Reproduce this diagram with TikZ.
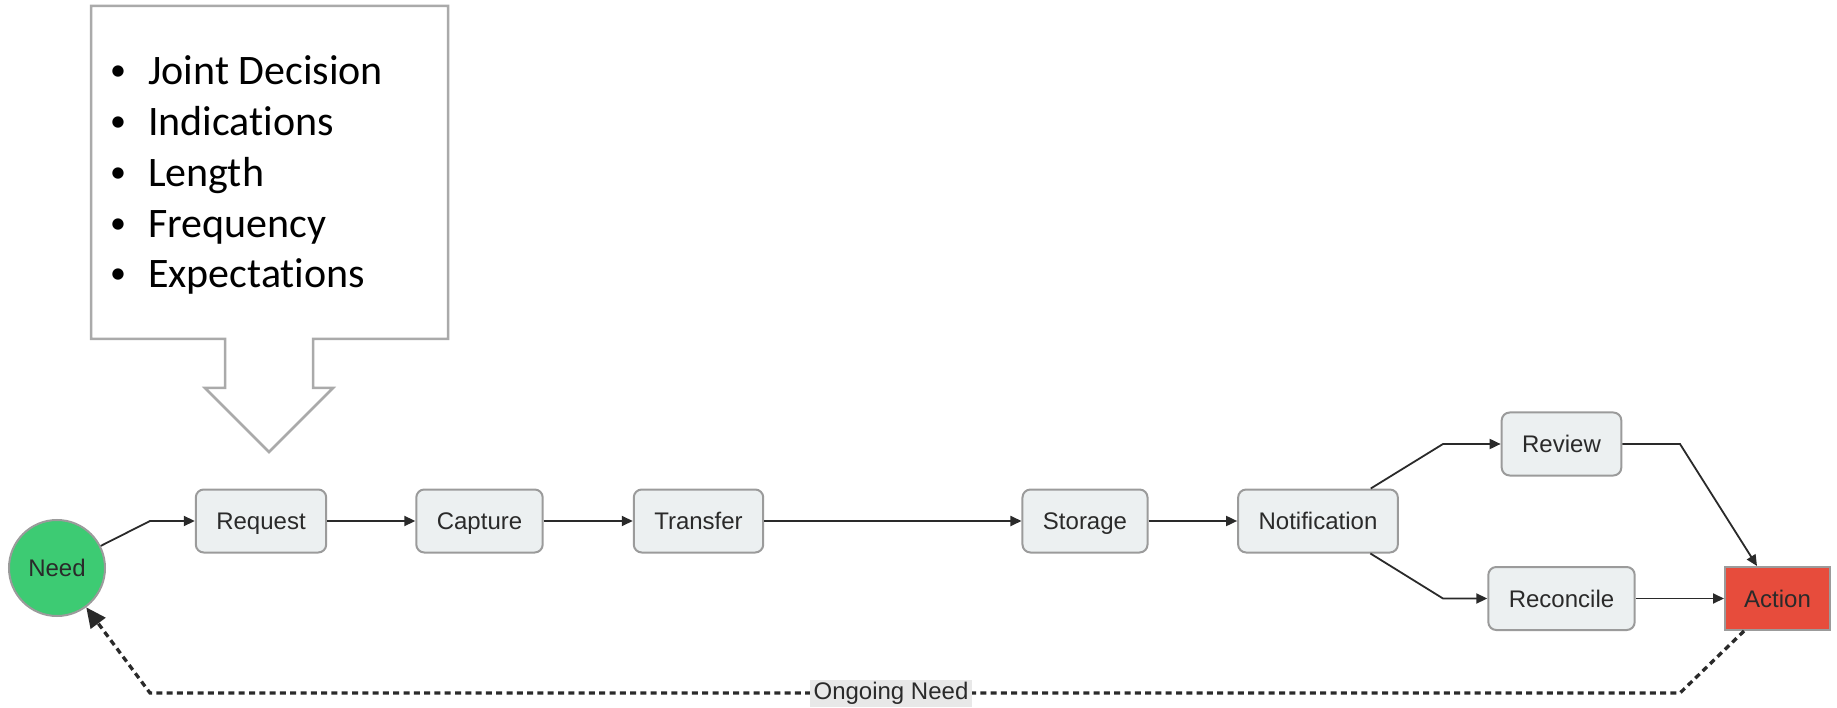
\documentclass[tikz,border=0pt]{standalone}
\usepackage{fontspec}
\setmainfont{Liberation Sans}
\newfontfamily\calib[Ligatures=NoCommon]{Carlito}
\usetikzlibrary{arrows.meta}
\definecolor{boxfill}{HTML}{ECF0F1}
\definecolor{boxline}{HTML}{9B9B9B}
\definecolor{txt}{HTML}{2A2A2A}
\definecolor{needgreen}{HTML}{3DCB73}
\definecolor{actred}{HTML}{E74C3C}
\definecolor{calline}{HTML}{AAAAAA}
\definecolor{lblbg}{HTML}{E8E8E8}
\begin{document}
\begin{tikzpicture}[x=1pt,y=-1pt,
  boxfont/.style={font=\fontsize{24}{28}\selectfont, text height=18.5pt, text depth=1.5pt},
  stepbox/.style={draw=boxline, line width=2pt, fill=boxfill, rounded corners=8pt,
    minimum height=63pt, inner xsep=20.5pt, text=txt, boxfont},
  neednode/.style={circle, draw=boxline, line width=2pt, fill=needgreen,
    minimum size=96pt, inner sep=0pt, text=txt, boxfont},
  actnode/.style={draw=boxline, line width=2pt, fill=actred,
    minimum height=63pt, minimum width=105pt, text=txt, boxfont},
  conn/.style={draw=txt, line width=1.8pt, -{Triangle[length=11pt,width=10pt]}},
  loopconn/.style={draw=txt, line width=3.3pt, dash pattern=on 6pt off 4.3pt,
    -{Triangle[length=20pt,width=18pt]}},
  calloutline/.style={draw=calline, line width=2.5pt, fill=white},
  bullettext/.style={font=\calib\fontsize{42}{50}\selectfont, inner sep=0pt, text=black},
  bulletdot/.style={font=\calib\fontsize{32}{40}\selectfont, inner sep=0pt, text=black},
  lbl/.style={fill=lblbg, text=txt, inner xsep=4pt, inner ysep=3pt, font=\fontsize{24}{28}\selectfont, text height=17pt, text depth=4pt}
]
\useasboundingbox (0,0) rectangle (1837,708);

% callout box with down arrow
\draw[calloutline] (91,6) -- (448,6) -- (448,339) -- (313,339) -- (313,388) -- (333,388)
  -- (269,452) -- (205,388) -- (225,388) -- (225,339) -- (91,339) -- cycle;
\foreach \t [count=\i from 0] in {Joint Decision,Indications,Length,Frequency,Expectations}{
  \node[bulletdot, anchor=base] (bu\i) at (118,81+50.75*\i) {•};
  \node[bullettext, anchor=base west] (bt\i) at (148,85+50.75*\i) {\t};
}

% nodes
\node[neednode] (need) at (57,568) {Need};
\node[stepbox] (request) at (261,521) {Request};
\node[stepbox] (capture) at (479.5,521) {Capture};
\node[stepbox] (transfer) at (698.5,521) {Transfer};
\node[stepbox] (storage) at (1085,521) {Storage};
\node[stepbox] (notif) at (1318,521) {Notification};
\node[stepbox] (review) at (1561.5,444) {Review};
\node[stepbox] (reconcile) at (1561.5,598.5) {Reconcile};
\node[actnode] (action) at (1777.5,598.5) {Action};

% connectors
\coordinate (c1) at (150,521);
\coordinate (c2) at (1443,444);
\coordinate (c3) at (1443,598.5);
\coordinate (c4) at (1680,444);
\coordinate (c5) at (1680,693);
\coordinate (c6) at (150,693);
\draw[conn] (need) -- (c1) -- (request.west);
\draw[conn] (request) -- (capture);
\draw[conn] (capture) -- (transfer);
\draw[conn] (transfer) -- (storage);
\draw[conn] (storage) -- (notif);
\draw[conn] (notif) -- (c2) -- (review.west);
\draw[conn] (notif) -- (c3) -- (reconcile.west);
\draw[conn] (review.east) -- (c4) -- (action);
\draw[conn] (reconcile) -- (action);
\draw[loopconn] (action) -- (c5) -- (c6) -- (need);
\node[lbl] (ongoing) at (891,693) {Ongoing Need};
\end{tikzpicture}
\end{document}
